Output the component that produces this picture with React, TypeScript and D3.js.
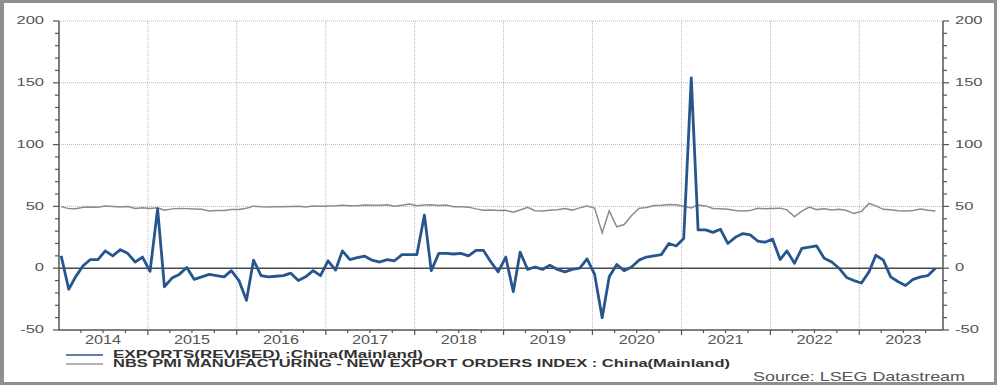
import React, { useEffect, useRef } from 'react';
import * as d3 from 'd3';

// monthly data, Jan 2014 .. Nov 2023
const years = [2014, 2015, 2016, 2017, 2018, 2019, 2020, 2021, 2022, 2023];

const exportsYoY = [
    // 2014
    10, -17, -7, 2, 7, 7, 14, 10, 15, 12, 5, 9,
    // 2015
    -2.5, 48, -15, -8, -5, 0.5, -9, -7, -5, -6, -7, -2,
    // 2016
    -10, -26, 6.5, -6, -7, -6.5, -6, -4, -10, -7, -2, -6,
    // 2017
    6, -1.5, 14, 7, 8.5, 9.7, 6.5, 5, 7, 6, 11, 11,
    // 2018
    11, 43, -2, 12, 12, 11.5, 12, 10, 14.5, 14.5, 5, -3,
    // 2019
    9, -19, 13, -1, 1, -1, 2.5, -1, -3, -1, 0, 7.5,
    // 2020
    -5, -40, -7, 3, -2, 1, 6.5, 9, 10, 11, 20, 18,
    // 2021
    24, 154, 31, 31, 29, 31.5, 20, 25, 28, 27, 22, 21,
    // 2022
    23.5, 7, 14, 4, 16, 17, 18, 8, 5, 0, -7.5, -10,
    // 2023
    -12, -3, 10.5, 6.5, -7, -11, -14, -9, -7, -6, 0,
];

const pmiExportOrders = [
    // 2014
    49.8, 48.2, 48.1, 49.3, 49.6, 49.3, 50.3, 50.0, 49.6, 49.9, 48.4, 49.0,
    // 2015
    48.4, 48.9, 46.9, 48.0, 48.3, 48.2, 47.9, 47.7, 46.2, 46.6, 46.6, 47.5,
    // 2016
    47.5, 48.5, 50.2, 49.7, 49.5, 49.8, 49.8, 50.0, 50.1, 49.5, 50.3, 50.1,
    // 2017
    50.4, 50.5, 51.0, 50.6, 50.5, 51.2, 50.9, 51.0, 51.3, 50.1, 51.0, 51.9,
    // 2018
    50.5, 51.2, 51.3, 50.7, 51.2, 49.8, 49.8, 49.4, 48.0, 46.9, 47.0, 46.6,
    // 2019
    46.9, 45.2, 47.1, 49.2, 46.5, 46.3, 46.9, 47.2, 48.2, 47.0, 48.8, 50.3,
    // 2020
    48.7, 28.7, 46.4, 33.5, 35.3, 42.6, 48.4, 49.1, 50.8, 51.0, 51.5, 51.3,
    // 2021
    50.2, 48.8, 51.2, 50.4, 48.3, 48.1, 47.7, 46.7, 46.2, 46.6, 48.5, 48.1,
    // 2022
    48.4, 48.6, 47.2, 41.6, 46.2, 49.5, 47.4, 48.1, 47.0, 47.6, 46.7, 44.2,
    // 2023
    46.1, 52.4, 50.4, 47.6, 47.2, 46.4, 46.3, 46.7, 47.8, 46.8, 46.3,
];

const yTicks = [-50, 0, 50, 100, 150, 200];
const seriesNames = [
    'EXPORTS(REVISED) :China(Mainland)',
    'NBS PMI MANUFACTURING - NEW EXPORT ORDERS INDEX : China(Mainland)',
];
const sourceText = 'Source: LSEG Datastream';

const monthDate = (i: number) => new Date(2014, i, 10);

function App() {
    const ref = useRef<SVGSVGElement>(null);

    useEffect(() => {
        const svg = d3.select(ref.current);
        svg.selectAll('*').remove();

        const left = 59, right = 943, top = 21, bottom = 330;
        const x = d3.scaleTime().domain([new Date(2014, 0, 1), new Date(2023, 11, 11)]).range([left, right]);
        const y = d3.scaleLinear().domain([-50, 200]).range([bottom, top]);

        const axisCol = '#555';
        const textCol = '#555';
        const font = 'Liberation Sans, Arial, sans-serif';

        // frame
        svg.append('rect').attr('x', 0).attr('y', 0).attr('width', 1000).attr('height', 385).attr('fill', '#fff');
        const frame = '#8f8f8f';
        svg.append('rect').attr('x', 0).attr('y', 0).attr('width', 4).attr('height', 385).attr('fill', frame);
        svg.append('rect').attr('x', 0).attr('y', 0).attr('width', 997).attr('height', 3).attr('fill', frame);
        svg.append('rect').attr('x', 994).attr('y', 0).attr('width', 3).attr('height', 385).attr('fill', frame);
        svg.append('rect').attr('x', 0).attr('y', 382).attr('width', 997).attr('height', 3).attr('fill', frame);

        // gridlines
        const grid = svg.append('g').attr('stroke', '#b8b8b8').attr('stroke-width', 1).attr('stroke-dasharray', '1,1');
        grid.selectAll('line.h')
            .data(yTicks.filter(v => v > 0))
            .enter().append('line')
            .attr('x1', left).attr('x2', right)
            .attr('y1', d => y(d)).attr('y2', d => y(d));
        const yearStarts = years.slice(1).map(yr => new Date(yr, 0, 1));
        grid.selectAll('line.v')
            .data(yearStarts)
            .enter().append('line')
            .attr('x1', d => x(d)).attr('x2', d => x(d))
            .attr('y1', top).attr('y2', bottom);

        // zero line
        svg.append('line')
            .attr('x1', left).attr('x2', right)
            .attr('y1', y(0)).attr('y2', y(0))
            .attr('stroke', '#4a4a4a').attr('stroke-width', 1.5);

        const line = d3.line<number>().x((d, i) => x(monthDate(i))).y(d => y(d));

        svg.append('path')
            .attr('d', line(pmiExportOrders) as string)
            .attr('fill', 'none')
            .attr('stroke', '#8c8c8c')
            .attr('stroke-width', 1.5);

        svg.append('path')
            .attr('d', line(exportsYoY) as string)
            .attr('fill', 'none')
            .attr('stroke', '#27558e')
            .attr('stroke-width', 2.8)
            .attr('stroke-linejoin', 'round');

        // axes lines
        const ax = svg.append('g').attr('stroke', axisCol).attr('stroke-width', 1.5);
        ax.append('line').attr('x1', left).attr('x2', left).attr('y1', top).attr('y2', bottom);
        ax.append('line').attr('x1', right).attr('x2', right).attr('y1', top).attr('y2', bottom);
        ax.append('line').attr('x1', left).attr('x2', right).attr('y1', bottom).attr('y2', bottom);

        // y ticks
        const minor = d3.range(-50, 201, 10);
        const tk = svg.append('g').attr('stroke', axisCol).attr('stroke-width', 1.2);
        minor.forEach(v => {
            const len = v % 50 === 0 ? 6 : 4;
            tk.append('line').attr('x1', left - len).attr('x2', left).attr('y1', y(v)).attr('y2', y(v));
            tk.append('line').attr('x1', right).attr('x2', right + len).attr('y1', y(v)).attr('y2', y(v));
        });

        // x ticks: quarterly minor, yearly major
        const quarters = d3.timeMonth.every(3)!.range(new Date(2014, 3, 1), new Date(2023, 11, 11));
        quarters.forEach(d => {
            const len = d.getMonth() === 0 ? 5 : 3;
            tk.append('line').attr('x1', x(d)).attr('x2', x(d)).attr('y1', bottom).attr('y2', bottom + len);
        });

        const stretched = (px: number, py: number, txt: string, anchor: string, size: number, sx: number) =>
            svg.append('text')
                .attr('transform', `translate(${px},${py}) scale(${sx},1)`)
                .attr('text-anchor', anchor)
                .attr('dominant-baseline', 'central')
                .style('font-family', font)
                .style('font-size', `${size}px`)
                .style('fill', textCol)
                .text(txt);

        yTicks.forEach(v => {
            stretched(44, y(v), String(v), 'end', 10, 1.65);
            stretched(955, y(v), String(v), 'start', 10, 1.65);
        });

        years.forEach(yr => {
            stretched(x(new Date(yr, 6, 1)), 340, String(yr), 'middle', 12, 1.35);
        });

        // legend
        const legendColors = ['#27558e', '#9a9a9a'];
        const legendWidths = [310, 617];
        seriesNames.forEach((name, i) => {
            const ly = 355 + i * 9;
            svg.append('line')
                .attr('x1', 66).attr('x2', 103)
                .attr('y1', ly).attr('y2', ly)
                .attr('stroke', legendColors[i]).attr('stroke-width', 1.5);
            svg.append('text')
                .attr('x', 113).attr('y', ly + 3)
                .attr('textLength', legendWidths[i])
                .attr('lengthAdjust', 'spacingAndGlyphs')
                .style('font-family', font)
                .style('font-size', '10px')
                .style('font-weight', 'bold')
                .style('fill', '#333')
                .text(name);
        });

        svg.append('text')
            .attr('x', 753).attr('y', 381)
            .attr('textLength', 212)
            .attr('lengthAdjust', 'spacingAndGlyphs')
            .style('font-family', font)
            .style('font-size', '13px')
            .style('fill', textCol)
            .text(sourceText);
    }, []);

    return (
        <svg ref={ref} width={1000} height={385} style={{ position: 'absolute', left: 0, top: 0 }}></svg>
    );
}

export default App;
